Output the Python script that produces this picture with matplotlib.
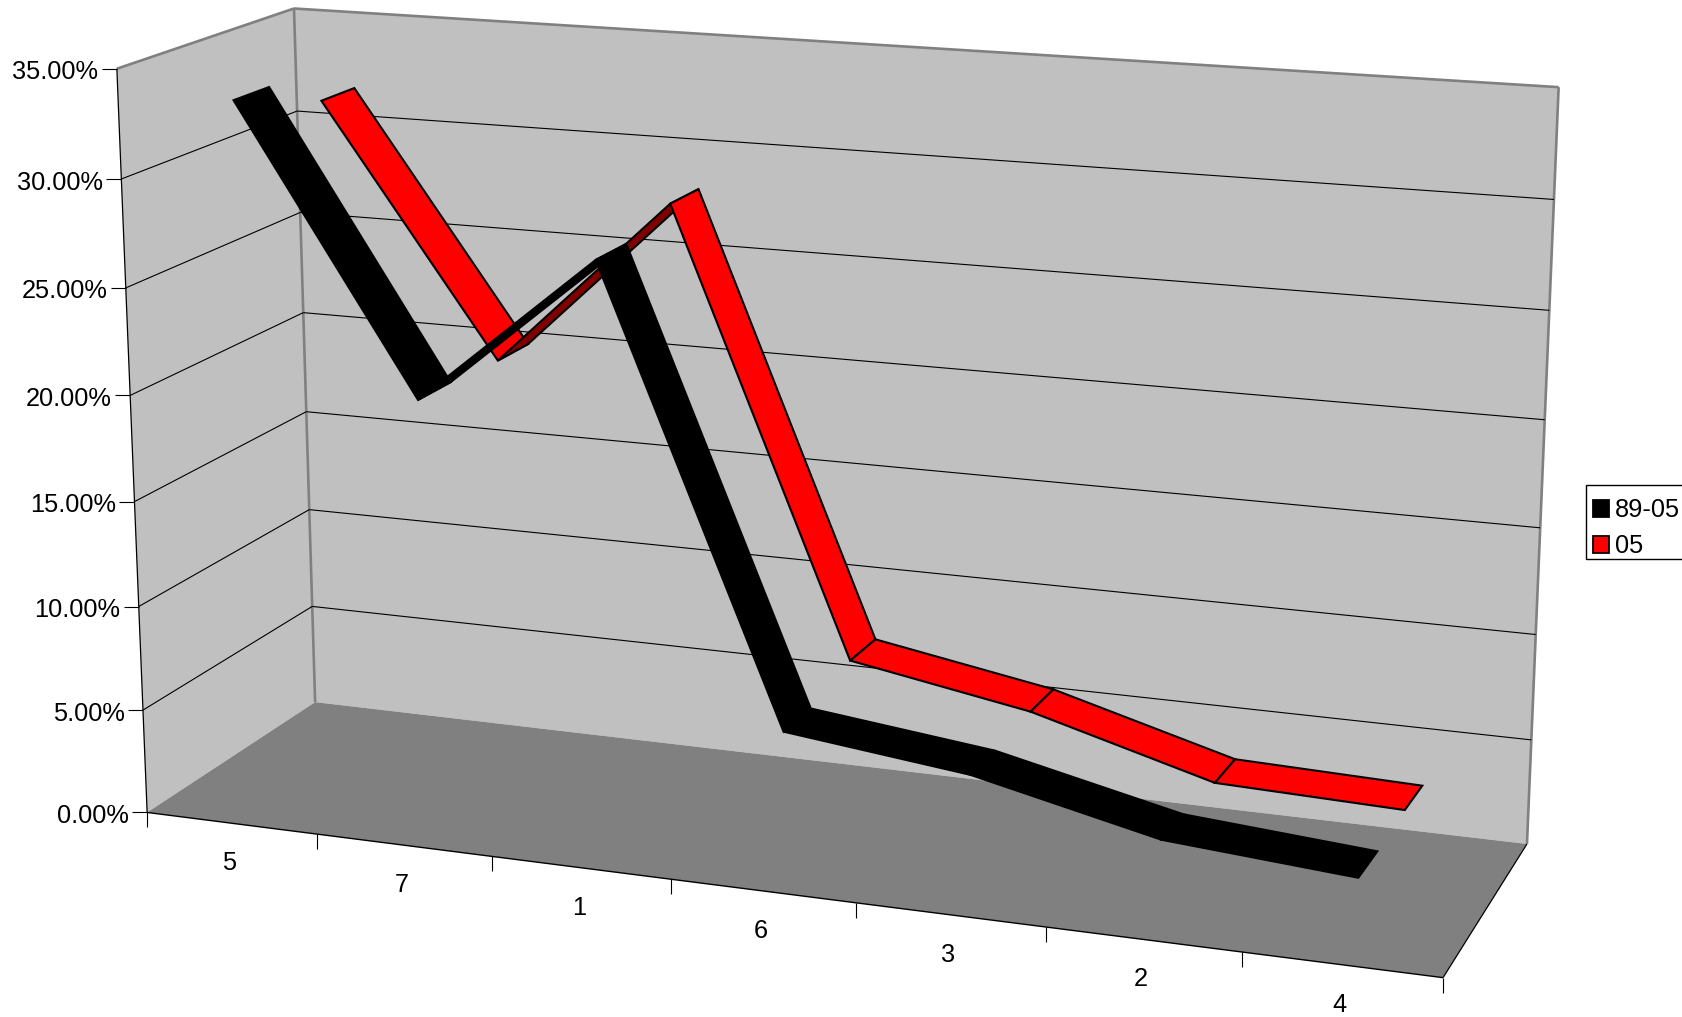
import numpy as np
import matplotlib
matplotlib.use("Agg")
import matplotlib.pyplot as plt
from matplotlib.patches import Polygon, Patch, Rectangle

plt.rcParams["font.family"] = ["Liberation Sans", "DejaVu Sans"]

categories = ["5", "7", "1", "6", "3", "2", "4"]
series_names = ["89-05", "05"]
vals_8905 = [33.4, 20.3, 27.4, 6.6, 5.6, 3.65, 3.0]
vals_05 = [31.85, 20.1, 28.2, 7.3, 5.8, 3.4, 3.15]
y_ticks = [0, 5, 10, 15, 20, 25, 30, 35]

W, H = 1683, 1017
FS = 18.3

# box corners (category, depth, percent) -> where they land in the image, used to fit the camera
box_world = [(0, 0, 0), (0, 0, 35), (0, 1, 35), (0, 1, 0), (7, 0, 0), (7, 1, 0), (7, 1, 35),
             (0, 0, 30), (0, 1, 30), (7, 1, 30), (1, 0, 0), (6, 0, 0)]
box_pix = [(147, 812.7), (116.7, 68.3), (293.3, 9), (315, 701.7), (1442.7, 977.3), (1527.3, 844),
           (1559.5, 87), (121.7, 179), (297.7, 111), (1553, 199.6), (317.3, 834.3), (1241.7, 952.3)]


def fit_camera():
    A = []
    for (x, y, z), (u, v) in zip(box_world, box_pix):
        u, v = u / 1000, v / 1000
        A.append([x, y, z, 1, 0, 0, 0, 0, -u * x, -u * y, -u * z, -u])
        A.append([0, 0, 0, 0, x, y, z, 1, -v * x, -v * y, -v * z, -v])
    return np.linalg.svd(np.array(A))[2][-1].reshape(3, 4)


CAM = fit_camera()


def pr(x, y, z):
    h = CAM @ np.array([x, y, z, 1.0])
    return h[0] / h[2] * 1000, h[1] / h[2] * 1000


fig = plt.figure(figsize=(W / 100, H / 100), dpi=100, facecolor="white")
ax = fig.add_axes([0, 0, 1, 1])
ax.set_xlim(0, W); ax.set_ylim(H, 0); ax.axis("off")

n = len(categories)
top = y_ticks[-1]

# walls and floor
left_wall = [pr(0, 0, 0), pr(0, 0, top), pr(0, 1, top), pr(0, 1, 0)]
back_wall = [pr(0, 1, 0), pr(0, 1, top), pr(n, 1, top), pr(n, 1, 0)]
floor = [pr(0, 0, 0), pr(0, 1, 0), pr(n, 1, 0), pr(n, 0, 0)]
ax.add_patch(Polygon(left_wall, fc="#c0c0c0", ec="none", zorder=1))
ax.add_patch(Polygon(back_wall, fc="#c0c0c0", ec="none", zorder=1))
ax.add_patch(Polygon(floor, fc="#808080", ec="none", zorder=1))


def seg(a, b, **kw):
    ax.plot([a[0], b[0]], [a[1], b[1]], solid_capstyle="butt", **kw)


for a, b in [((0, 0, top), (0, 1, top)), ((0, 1, top), (n, 1, top)), ((0, 1, top), (0, 1, 0)), ((n, 1, top), (n, 1, 0))]:
    seg(pr(*a), pr(*b), color="#808080", lw=1.9, zorder=2)

# gridlines on the left wall and the back wall, value ticks and labels
for t in y_ticks:
    p0 = pr(0, 0, t)
    if 0 < t < top:
        seg(p0, pr(0, 1, t), color="black", lw=0.8, zorder=2)
        seg(pr(0, 1, t), pr(n, 1, t), color="black", lw=0.8, zorder=2)
    seg(p0, (p0[0] - 15, p0[1]), color="black", lw=0.8, zorder=3)
    ax.text(p0[0] - 18.5, p0[1] + 3.6, f"{t:.2f}%", ha="right", va="center", fontsize=FS, color="black")

# axes lines
seg(pr(0, 0, 0), pr(0, 0, top), color="black", lw=0.9, zorder=3)
seg(pr(0, 0, 0), pr(n, 0, 0), color="black", lw=1.0, zorder=3)
seg(pr(n, 0, 0), pr(n, 1, 0), color="black", lw=0.9, zorder=3)
for i in range(n + 1):
    p = pr(i, 0, 0)
    seg(p, (p[0], p[1] + 15), color="black", lw=0.8, zorder=3)
for i, c in enumerate(categories):
    p = pr(i + 0.5, 0, 0)
    ax.text(p[0] - 2, p[1] + 40, c, ha="center", va="center", fontsize=FS, color="black")


def ribbon(vals, y0, y1, color, dark, z):
    for i in range(len(vals) - 1):
        xa, xb = i + 0.5, i + 1.5
        pts = [pr(xa, y0, vals[i]), pr(xa, y1, vals[i]), pr(xb, y1, vals[i + 1]), pr(xb, y0, vals[i + 1])]
        fc = dark if vals[i + 1] > vals[i] else color  # rising parts show their underside
        ax.add_patch(Polygon(pts, closed=True, fc=fc, ec="black", lw=1.5, joinstyle="miter", zorder=z + i * 0.01))


ribbon(vals_05, 0.65, 0.85, "#ff0000", "#800000", 4)
ribbon(vals_8905, 0.15, 0.35, "#000000", "#000000", 5)

# legend box runs off the right edge of the picture
ax.add_patch(Rectangle((1585.7, 485), W + 20 - 1585.7, 74, fc="white", ec="black", lw=1.0, zorder=6))
leg = ax.legend(handles=[Patch(fc="#000000", ec="black", lw=1.3, label=series_names[0]),
                         Patch(fc="#ff0000", ec="black", lw=1.3, label=series_names[1])],
                loc="upper left", bbox_to_anchor=(1584.7 / W, 1 - 490 / H), bbox_transform=ax.transAxes,
                fontsize=FS, frameon=False, borderpad=0.33, borderaxespad=0, handlelength=0.63,
                handleheight=0.63, handletextpad=0.24, labelspacing=0.47)
leg.set_zorder(7)

fig.savefig("out.png", dpi=100, facecolor="white")
